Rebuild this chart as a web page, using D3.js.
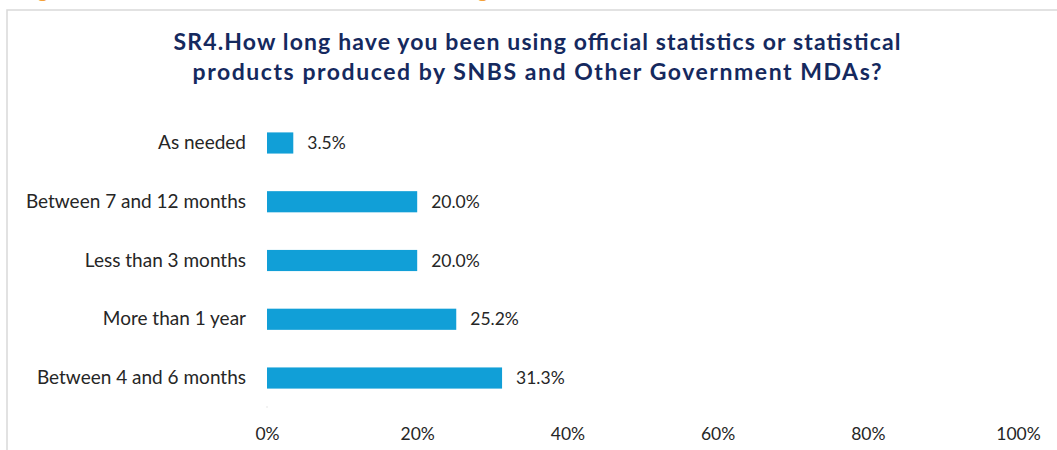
<!DOCTYPE html>
<html>
<head>
<meta charset="utf-8">
<script src="https://cdn.jsdelivr.net/npm/d3@7"></script>
<style>
  html, body { margin: 0; padding: 0; background: #fff; }
  svg { display: block; }
  text { font-family: Lato, "Open Sans", sans-serif; }
</style>
</head>
<body>
<svg id="chart" width="1057" height="450"></svg>
<script>
// Survey responses, top to bottom
const categories = [
  "As needed",
  "Between 7 and 12 months",
  "Less than 3 months",
  "More than 1 year",
  "Between 4 and 6 months"
];
const shares = [3.5, 20.0, 20.0, 25.2, 31.3];
const tickValues = [0, 20, 40, 60, 80, 100];
const titleLines = [
  "SR4.How long have you been using official statistics or statistical",
  "products produced by SNBS and Other Government MDAs?"
];
const titleWidths = [727, 689];

const svg = d3.select("#chart");

// Caption glyphs above the frame, mostly cut off by the page top
svg.selectAll("text.cap")
  .data([{x: 37, t: "g"}, {x: 477, t: "g"}])
  .join("text")
  .attr("class", "cap")
  .attr("x", d => d.x)
  .attr("y", -3)
  .attr("font-size", 22)
  .attr("font-weight", 700)
  .attr("fill", "#f4a23a")
  .text(d => d.t);

// Chart frame
svg.append("rect")
  .attr("x", 7).attr("y", 10)
  .attr("width", 1100).attr("height", 500)
  .attr("fill", "none")
  .attr("stroke", "#d9d9d9")
  .attr("stroke-width", 1.5);

// Title, two centred lines
svg.selectAll("text.title")
  .data(titleLines)
  .join("text")
  .attr("class", "title")
  .attr("text-anchor", "middle")
  .attr("font-size", 23)
  .attr("font-weight", 700)
  .attr("fill", "#15295e")
  .attr("x", 537)
  .attr("y", (d, i) => 50 + i * 29.5)
  .attr("textLength", (d, i) => titleWidths[i])
  .attr("lengthAdjust", "spacing")
  .text(d => d);

const x = d3.scaleLinear().domain([0, 100]).range([267, 1018]);
const y = d3.scaleBand()
  .domain(categories)
  .range([113.6, 407.4])
  .paddingInner(0.64)
  .paddingOuter(0.32);

// Faint value axis baseline
svg.append("line")
  .attr("x1", x(0)).attr("x2", x(0))
  .attr("y1", 406).attr("y2", 408)
  .attr("stroke", "#e6e6e6");

// Bars
svg.selectAll("rect.bar")
  .data(shares)
  .join("rect")
  .attr("class", "bar")
  .attr("x", x(0))
  .attr("y", (d, i) => y(categories[i]))
  .attr("width", d => x(d) - x(0))
  .attr("height", y.bandwidth())
  .attr("fill", "#119fd7");

// Value labels
svg.selectAll("text.val")
  .data(shares)
  .join("text")
  .attr("class", "val")
  .attr("x", d => x(d) + 14)
  .attr("y", (d, i) => y(categories[i]) + y.bandwidth() / 2)
  .attr("dy", "0.35em")
  .attr("font-size", 17.5)
  .attr("fill", "#262626")
  .text(d => d.toFixed(1) + "%");

// Category labels
const yAxis = d3.axisLeft(y).tickSize(0).tickPadding(0);
const gy = svg.append("g")
  .attr("transform", "translate(246,0)")
  .call(yAxis);
gy.select(".domain").remove();
gy.selectAll("text")
  .attr("font-size", 19)
  .attr("font-family", "Lato, 'Open Sans', sans-serif")
  .attr("fill", "#262626");

// Percentage axis labels
const xAxis = d3.axisBottom(x)
  .tickValues(tickValues)
  .tickSize(0)
  .tickPadding(0)
  .tickFormat(d => d + "%");
const gx = svg.append("g")
  .attr("transform", "translate(0,428)")
  .call(xAxis);
gx.select(".domain").remove();
gx.selectAll("text")
  .attr("font-size", 17.5)
  .attr("font-family", "Lato, 'Open Sans', sans-serif")
  .attr("fill", "#262626");
</script>
</body>
</html>
